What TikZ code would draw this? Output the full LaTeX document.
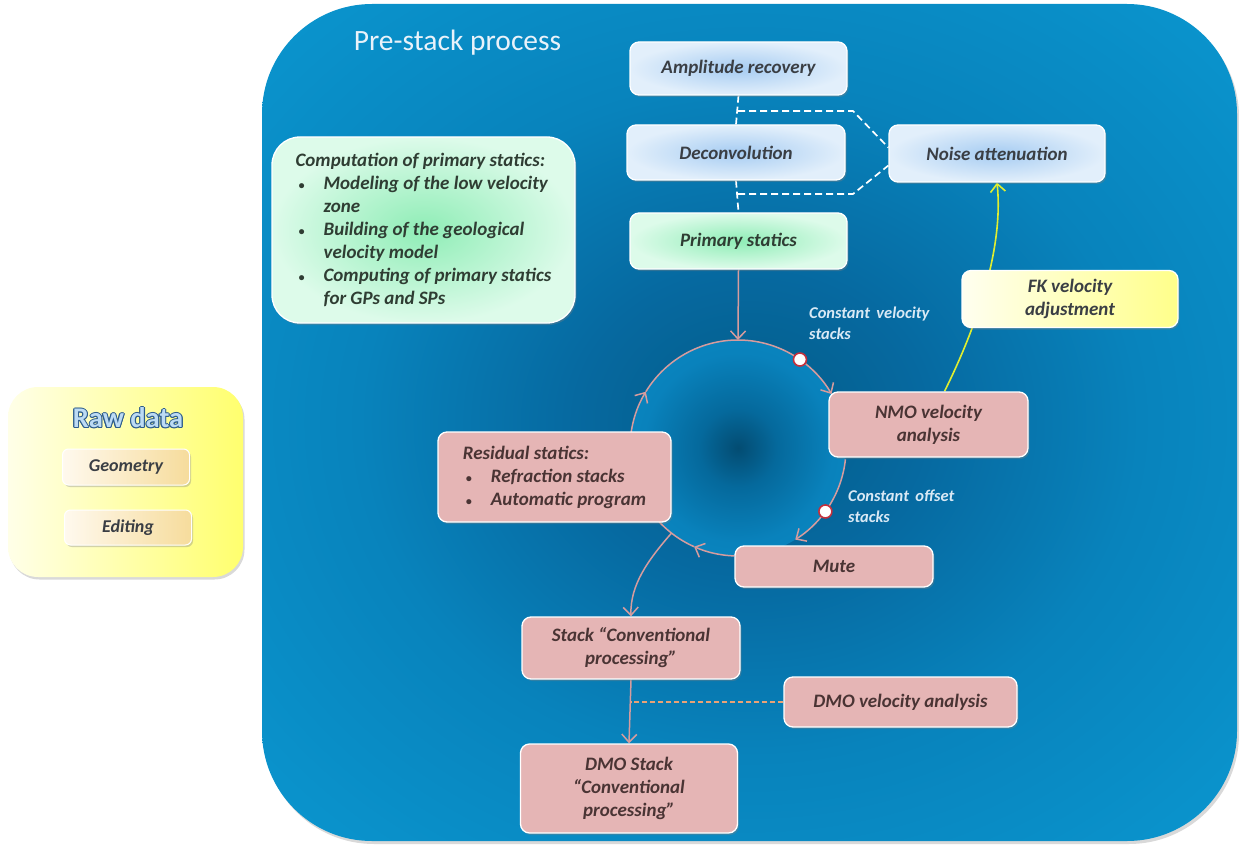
\documentclass[tikz,border=0pt]{standalone}
\usepackage{fontspec}
\setmainfont{Carlito}
\usetikzlibrary{shadows,arrows.meta,calc}
\definecolor{pc0}{HTML}{045C88}
\definecolor{pc1}{HTML}{0669A0}
\definecolor{pc2}{HTML}{0883BC}
\definecolor{pc3}{HTML}{0A93CC}
\definecolor{pc4}{HTML}{0D9DD6}
\definecolor{circin}{HTML}{034C72}
\definecolor{circmid}{HTML}{05699C}
\definecolor{circmid2}{HTML}{0982BC}
\definecolor{circout}{HTML}{0A8EC7}
\definecolor{bluein}{HTML}{A6CCF2}
\definecolor{blueout}{HTML}{E2EFFB}
\definecolor{greenin}{HTML}{8FEDB6}
\definecolor{greenout}{HTML}{DDFBEA}
\definecolor{pinkfill}{HTML}{E5B5B5}
\definecolor{yelleft}{HTML}{FFFFF0}
\definecolor{yelright}{HTML}{FFFF8A}
\definecolor{rawleft}{HTML}{FFFFE8}
\definecolor{rawright}{HTML}{FFFF6E}
\definecolor{tanleft}{HTML}{FFF9EE}
\definecolor{tanright}{HTML}{F6DC9C}
\definecolor{boxtxt}{HTML}{3A3E44}
\definecolor{greentxt}{HTML}{2F3D33}
\definecolor{pinktxt}{HTML}{4A3434}
\definecolor{arrowc}{HTML}{D69C9E}
\definecolor{yarrow}{HTML}{E0EE30}
\definecolor{odashc}{HTML}{E9A276}
\definecolor{dotred}{HTML}{C4303C}
\definecolor{labtxt}{HTML}{D9E9F5}
\definecolor{titletxt}{HTML}{E9F2FA}
\definecolor{rawfill}{HTML}{BCDBF4}
\definecolor{rawline}{HTML}{2C5C8C}
\pgfdeclareradialshading{panelshade}{\pgfpoint{0bp}{0bp}}{color(0bp)=(pc0); color(9bp)=(pc1); color(20bp)=(pc2); color(33bp)=(pc3); color(50bp)=(pc4)}
\pgfdeclareradialshading{circshade}{\pgfpoint{0bp}{0bp}}{color(0bp)=(circin); color(9bp)=(circmid); color(22bp)=(circmid2); color(50bp)=(circout)}
\pgfdeclarelayer{back}
\pgfdeclarelayer{lines}
\pgfsetlayers{back,lines,main}
\tikzset{
  boxbase/.style={draw=white, line width=1.3pt, rounded corners=9pt, align=center, inner sep=4pt,
    font=\fontsize{19}{23}\selectfont\bfseries\itshape,
    drop shadow={shadow xshift=1.5pt, shadow yshift=-2pt, opacity=0.35}},
  bluebox/.style={boxbase, inner color=bluein, outer color=blueout, text=boxtxt},
  greenbox/.style={boxbase, inner color=greenin, outer color=greenout, text=greentxt},
  pinkbox/.style={boxbase, fill=pinkfill, text=pinktxt},
  yellowbox/.style={boxbase, left color=yelleft, right color=yelright, text=boxtxt},
  tanbox/.style={boxbase, line width=1pt, rounded corners=6pt, left color=tanleft, right color=tanright, text=boxtxt,
    font=\fontsize{18}{20}\selectfont\bfseries\itshape},
  rawbox/.style={rounded corners=30pt, left color=rawleft, right color=rawright,
    drop shadow={shadow xshift=1.5pt, shadow yshift=-2.5pt, opacity=0.3}},
  flow/.style={draw=arrowc, line width=1.5pt, -{Straight Barb[length=8pt,width=15pt]}},
  flowplain/.style={draw=arrowc, line width=1.5pt},
  wdash/.style={draw=white, line width=1.7pt, dash pattern=on 7pt off 4pt},
  odash/.style={draw=odashc, line width=1.3pt, dash pattern=on 5pt off 3pt},
  yflow/.style={draw=yarrow, line width=1.6pt, -{Straight Barb[length=8pt,width=15pt]}},
  marker/.style={circle, fill=white, draw=dotred, line width=1.6pt, minimum size=13pt, inner sep=0pt},
  steplabel/.style={anchor=north west, inner sep=0pt, align=left, text=labtxt,
    font=\fontsize{16.5}{21}\selectfont\bfseries\itshape},
  rawtitle/.style={font=\fontsize{28.5}{30}\selectfont\bfseries, inner sep=0pt},
}
\newcommand{\bul}{\makebox[28pt][l]{\hspace{3pt}{\fontsize{12}{12}\selectfont\textbullet}}}
\begin{document}
\begin{tikzpicture}[x=1pt,y=-1pt]
\useasboundingbox (0,0) rectangle (1239,845);
% background panel and circle
\begin{pgfonlayer}{back}
\shade[shading=panelshade, rounded corners=110pt, drop shadow={shadow xshift=2pt, shadow yshift=-3pt, opacity=0.3}]
  (262,4) rectangle (1237,841);
\shade[shading=circshade] (738,448) circle[radius=108];
\end{pgfonlayer}
\coordinate (cc) at (738,448);

% title
\node[font=\fontsize{29.5}{32}\selectfont, text=titletxt, inner sep=0pt] (pretitle) at (457.5,43) {Pre-stack process};

% raw data panel
\node[rawbox, minimum width=235pt, minimum height=190pt] (raw) at (125.5,482) {};
\foreach \dx/\dy [count=\i] in {-1.1/0,1.1/0,0/-1.1,0/1.1,-0.8/-0.8,0.8/0.8,-0.8/0.8,0.8/-0.8}
  \node[rawtitle, text=rawline] (rawo\i) at (128+\dx,418+\dy) {Raw data};
\node[rawtitle, text=rawfill] (rawtitle) at (128,418) {Raw data};
\node[tanbox, minimum width=127pt, minimum height=36pt] (geom) at (126,467) {Geometry};
\node[tanbox, minimum width=127pt, minimum height=35pt] (edit) at (128,527.5) {Editing};

% pre-stack nodes
\node[bluebox, minimum width=217pt, minimum height=53pt] (amp) at (738.5,68.5) {Amplitude recovery};
\node[bluebox, minimum width=218pt, minimum height=55pt] (dec) at (736,152.5) {Deconvolution};
\node[bluebox, minimum width=216pt, minimum height=57pt] (noise) at (997,153.5) {Noise attenuation};
\node[greenbox, minimum width=217pt, minimum height=56pt] (prim) at (738.5,241) {Primary statics};
\node[greenbox, rounded corners=28pt, minimum width=303pt, minimum height=186pt, align=left] (comp) at (423.5,230)
  {Computation of primary statics:\\
   \bul Modeling of the low velocity\\
   \hspace*{28pt}zone\\
   \bul Building of the geological\\
   \hspace*{28pt}velocity model\\
   \bul Computing of primary statics\\
   \hspace*{28pt}for GPs and SPs};
\node[pinkbox, minimum width=199pt, minimum height=65pt] (nmo) at (928.5,424.5) {NMO velocity\\analysis};
\node[pinkbox, minimum width=233pt, minimum height=90pt, align=left] (res) at (554.5,477)
  {Residual statics:\\ \bul Refraction stacks\\ \bul Automatic program};
\node[pinkbox, minimum width=198pt, minimum height=41pt] (mute) at (834,566.5) {Mute};
\node[pinkbox, minimum width=218pt, minimum height=62pt] (stack) at (631,648) {Stack “Conventional\\processing”};
\node[pinkbox, minimum width=233pt, minimum height=50pt] (dmov) at (900.5,702) {DMO velocity analysis};
\node[pinkbox, minimum width=217pt, minimum height=89pt] (dmo) at (629,788.5) {DMO Stack\\“Conventional\\processing”};
\node[yellowbox, minimum width=216pt, minimum height=57pt] (fk) at (1070,299) {FK velocity\\adjustment};

% labels
\node[steplabel] (cvs) at (809,307) {Constant\, velocity\\stacks};
\node[steplabel] (cos) at (848,490) {Constant\, offset\\stacks};

% circle coordinates (angle a = clockwise from right)
\coordinate (ctop) at ($(cc)+(-90:108)$);
\coordinate (cd1) at ($(cc)+(-55:108)$);
\coordinate (cnmo) at ($(cc)+(-30:108)$);
\coordinate (cnmob) at ($(cc)+(6:108)$);
\coordinate (cd2) at ($(cc)+(36:108)$);
\coordinate (cmute) at ($(cc)+(92:108)$);
\coordinate (cbot) at ($(cc)+(114:108)$);
\coordinate (cstk) at ($(cc)+(128:108)$);
\coordinate (cres) at ($(cc)+(185:108)$);
\coordinate (cleft) at ($(cc)+(211.4:108)$);

% connectors
\begin{pgfonlayer}{lines}
\draw[wdash] (amp.south) -- (dec.north);
\draw[wdash] (dec.south) -- (prim.north);
\coordinate (b1) at (738,111);
\coordinate (b2) at (738,194);
\coordinate (k1) at (853,111);
\coordinate (k2) at (853,194);
\draw[wdash] (b1) -- (k1) -- ($(noise.west)+(0,-6)$);
\draw[wdash] (b2) -- (k2) -- ($(noise.west)+(0,12)$);

\draw[flow] (prim.south) -- (ctop);
\draw[flowplain] (ctop) arc[start angle=-90, end angle=-55, radius=108];
\draw[flow] (cd1) arc[start angle=-55, end angle=-30, radius=108];
\draw[flowplain] (cnmob) arc[start angle=6, end angle=36, radius=108];
\draw[flow] (cd2) arc[start angle=36, end angle=58, radius=108];
\draw[flow] (cmute) arc[start angle=92, end angle=114, radius=108];
\draw[flowplain] (cbot) arc[start angle=114, end angle=140, radius=108];
\draw[flow] (cres) arc[start angle=185, end angle=211.4, radius=108];
\draw[flowplain] (cleft) arc[start angle=211.4, end angle=270, radius=108];
\draw[flow] (cstk) .. controls (648,560) and (630,585) .. (stack.north);
\draw[flow] (stack.south) -- (dmo.north);
\coordinate (dj) at (stack.south |- dmov.west);
\draw[odash] (dmov.west) -- (dj);
\draw[yflow] ($(nmo.north)+(16,0)$) .. controls (975,330) and (1004,250) .. (noise.south);
\end{pgfonlayer}

\node[marker] (m1) at (cd1) {};
\node[marker] (m2) at (cd2) {};
\end{tikzpicture}
\end{document}
